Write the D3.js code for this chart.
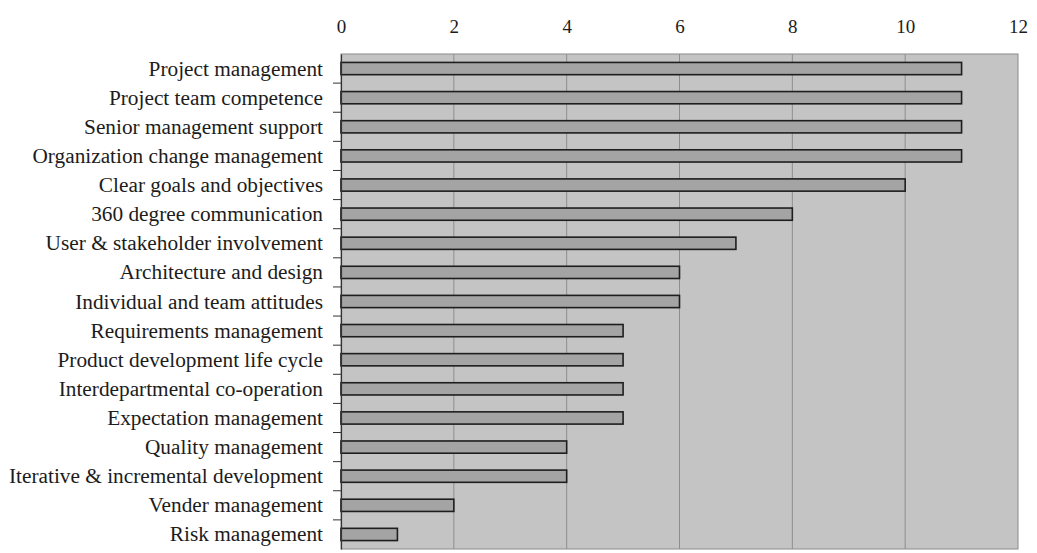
<!DOCTYPE html>
<html><head><meta charset="utf-8">
<script src="https://cdn.jsdelivr.net/npm/d3@7"></script>
<style>body{margin:0;background:#fff;}svg{display:block;}</style>
</head><body>
<svg id="chart" width="1037" height="553"></svg>
<script>
const factors = [
  "Project management","Project team competence","Senior management support",
  "Organization change management","Clear goals and objectives","360 degree communication",
  "User & stakeholder involvement","Architecture and design","Individual and team attitudes",
  "Requirements management","Product development life cycle","Interdepartmental co-operation",
  "Expectation management","Quality management","Iterative & incremental development",
  "Vender management","Risk management"
];
const counts = [11,11,11,11,10,8,7,6,6,5,5,5,5,4,4,2,1];
const xTicks = [0,2,4,6,8,10,12];

const svg = d3.select("#chart");
const m = {left:341, right:1018, top:54, bottom:549};
const x = d3.scaleLinear().domain([0,12]).range([m.left, m.right]);
const y = d3.scaleBand().domain(factors).range([m.top, m.bottom]).paddingInner(0.58).paddingOuter(0.29);
const band = d3.scaleBand().domain(factors).range([m.top, m.bottom]);

const font = "'Liberation Serif', 'Times New Roman', serif";

// plot background
svg.append("rect").attr("x", m.left).attr("y", m.top)
  .attr("width", m.right - m.left).attr("height", m.bottom - m.top)
  .attr("fill", "#c4c4c4").attr("stroke", "#8a8a8a").attr("stroke-width", 1);

// vertical gridlines
svg.append("g").selectAll("line").data(xTicks.slice(1, -1)).join("line")
  .attr("x1", d => x(d)).attr("x2", d => x(d))
  .attr("y1", m.top).attr("y2", m.bottom)
  .attr("stroke", "#8e8e8e").attr("stroke-width", 1);

// bars
svg.append("g").selectAll("rect").data(factors).join("rect")
  .attr("x", x(0))
  .attr("y", d => y(d))
  .attr("width", (d, i) => x(counts[i]) - x(0))
  .attr("height", y.bandwidth())
  .attr("fill", "#a4a4a4").attr("stroke", "#1e1e1e").attr("stroke-width", 1.6);

// top value axis
const xAxis = svg.append("g").attr("transform", `translate(0,${m.top})`)
  .call(d3.axisTop(x).tickValues(xTicks).tickSize(0).tickPadding(21));
xAxis.select(".domain").remove();
xAxis.selectAll("text").attr("font-family", font).attr("font-size", 19).attr("fill", "#1c1c1c");

// left category axis with ticks on band boundaries
const yAxis = svg.append("g").attr("transform", `translate(${m.left},0)`)
  .call(d3.axisLeft(band).tickSize(0).tickPadding(18));
yAxis.select(".domain").attr("stroke", "#333").attr("stroke-width", 1.2);
yAxis.selectAll("text").attr("font-family", font).attr("font-size", 21.3).attr("fill", "#1c1c1c")
  .attr("dy", "0.33em");
svg.append("g").selectAll("line").data(d3.range(1, factors.length)).join("line")
  .attr("x1", m.left - 8).attr("x2", m.left)
  .attr("y1", i => band(factors[i])).attr("y2", i => band(factors[i]))
  .attr("stroke", "#333").attr("stroke-width", 1);
</script>
</body></html>
